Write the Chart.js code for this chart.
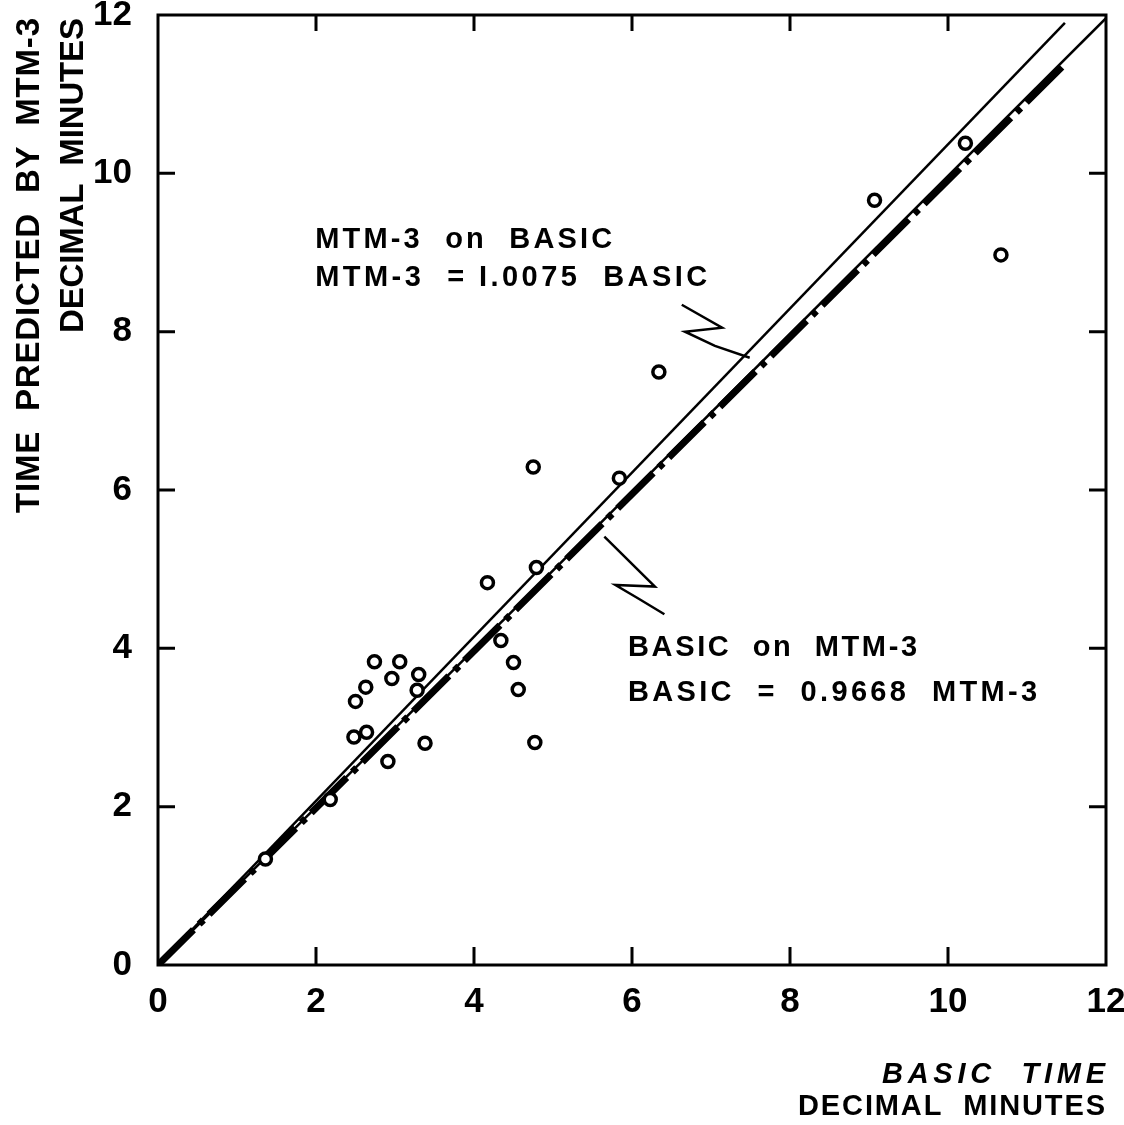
<!DOCTYPE html>
<html lang="en">
<head>
    <meta charset="UTF-8">
    <title>MTM-3 vs Basic time</title>
    <style>
        body {
            margin: 0;
            background-color: #fff;
        }
        #chart {
            display: block;
        }
    </style>
    <script src="https://cdn.jsdelivr.net/npm/chart.js"></script>
</head>
<body>
    <canvas id="chart" width="1124" height="1125"></canvas>

    <script>
        // observed elements: basic time (x) vs time predicted by MTM-3 (y)
        const basicTime = [1.36, 2.18, 2.48, 2.64, 2.91, 3.38, 4.77, 2.50, 2.63, 2.74, 3.06, 2.96, 3.30, 3.28,
                           4.34, 4.50, 4.56, 4.17, 4.79, 4.75, 5.84, 6.34, 9.07, 10.22, 10.67];
        const mtmTime   = [1.34, 2.09, 2.88, 2.94, 2.57, 2.80, 2.81, 3.33, 3.51, 3.83, 3.83, 3.62, 3.67, 3.47,
                           4.10, 3.82, 3.48, 4.83, 5.02, 6.29, 6.15, 7.49, 9.66, 10.38, 8.97];

        // fitted lines, end points
        const upperLineX = [0, 11.48];
        const upperLineY = [0, 11.90];
        const middleLineX = [0, 12.0];
        const middleLineY = [0, 11.96];
        const dashLineX = [0, 11.5];
        const dashLineY = [0, 11.40];

        // zig-zag leader lines from the labels to the lines
        const leaderUpX = [6.63, 7.14, 6.67, 7.05, 7.49];
        const leaderUpY = [8.34, 8.05, 8.00, 7.82, 7.67];
        const leaderLowX = [5.65, 6.29, 5.79, 6.08, 6.41];
        const leaderLowY = [5.41, 4.78, 4.80, 4.63, 4.43];

        const tickValues = [0, 2, 4, 6, 8, 10, 12];

        const toPoints = (xs, ys) => xs.map((x, i) => ({ x: x, y: ys[i] }));

        function fitText(ctx, text, x, y, width) {
            ctx.letterSpacing = '0px';
            const w = ctx.measureText(text).width;
            const sp = (width - w) / (text.length - 1);
            ctx.letterSpacing = sp + 'px';
            ctx.textAlign = 'left';
            ctx.textBaseline = 'alphabetic';
            ctx.fillText(text, x, y);
            ctx.letterSpacing = '0px';
        }

        const framePlugin = {
            id: 'frame',
            afterDraw(chart) {
                const ctx = chart.ctx;
                const a = chart.chartArea;
                const xs = chart.scales.x;
                const ys = chart.scales.y;
                ctx.save();
                ctx.strokeStyle = '#000';
                ctx.fillStyle = '#000';
                ctx.lineWidth = 3;
                ctx.strokeRect(a.left, a.top, a.right - a.left, a.bottom - a.top);

                // inward ticks on all four sides
                ctx.beginPath();
                tickValues.slice(1, -1).forEach(v => {
                    const px = xs.getPixelForValue(v);
                    ctx.moveTo(px, a.bottom); ctx.lineTo(px, a.bottom - 18);
                    ctx.moveTo(px, a.top); ctx.lineTo(px, a.top + 16);
                    const py = ys.getPixelForValue(v);
                    ctx.moveTo(a.left, py); ctx.lineTo(a.left + 17, py);
                    ctx.moveTo(a.right, py); ctx.lineTo(a.right - 17, py);
                });
                ctx.stroke();

                // annotations
                ctx.font = 'bold 29px "Liberation Sans"';
                let lx = xs.getPixelForValue(1.99);
                fitText(ctx, 'MTM-3  on  BASIC', lx, ys.getPixelForValue(9.06), 297);
                fitText(ctx, 'MTM-3  = I.0075  BASIC', lx, ys.getPixelForValue(8.58), 392);
                lx = xs.getPixelForValue(5.95);
                fitText(ctx, 'BASIC  on  MTM-3', lx, ys.getPixelForValue(3.90), 289);
                fitText(ctx, 'BASIC  =  0.9668  MTM-3', lx, ys.getPixelForValue(3.33), 409);

                // x axis title
                ctx.font = 'italic bold 29px "Liberation Sans"';
                fitText(ctx, 'BASIC  TIME', 882, 1083, 223);
                ctx.font = 'bold 29px "Liberation Sans"';
                fitText(ctx, 'DECIMAL  MINUTES', 798, 1115, 307);

                // y axis title, read bottom to top
                ctx.font = 'bold 33px "Liberation Sans"';
                ctx.save();
                ctx.translate(39, 513);
                ctx.rotate(-Math.PI / 2);
                fitText(ctx, 'TIME  PREDICTED  BY  MTM-3', 0, 0, 495);
                ctx.restore();
                ctx.save();
                ctx.translate(83, 333);
                ctx.rotate(-Math.PI / 2);
                fitText(ctx, 'DECIMAL  MINUTES', 0, 0, 315);
                ctx.restore();

                ctx.restore();
            }
        };

        const lineStyle = {
            showLine: true,
            pointRadius: 0,
            borderColor: '#000',
            backgroundColor: '#000',
            fill: false
        };

        const tickFont = { family: '"Liberation Sans"', size: 35, weight: 'bold' };

        new Chart(document.getElementById('chart').getContext('2d'), {
            type: 'scatter',
            data: {
                datasets: [
                    {
                        label: 'Observed',
                        data: toPoints(basicTime, mtmTime),
                        pointStyle: 'circle',
                        pointRadius: 6,
                        pointBorderWidth: 3.5,
                        borderColor: '#000',
                        backgroundColor: '#fff'
                    },
                    Object.assign({ label: 'MTM-3 on BASIC', data: toPoints(upperLineX, upperLineY), borderWidth: 2.5 }, lineStyle),
                    Object.assign({ label: 'Middle', data: toPoints(middleLineX, middleLineY), borderWidth: 2.5 }, lineStyle),
                    Object.assign({ label: 'BASIC on MTM-3', data: toPoints(dashLineX, dashLineY), borderWidth: 7,
                                    borderDash: [50, 8, 6, 8] }, lineStyle),
                    Object.assign({ label: 'Leader 1', data: toPoints(leaderUpX, leaderUpY), borderWidth: 2.5 }, lineStyle),
                    Object.assign({ label: 'Leader 2', data: toPoints(leaderLowX, leaderLowY), borderWidth: 2.5 }, lineStyle)
                ]
            },
            options: {
                responsive: false,
                animation: false,
                layout: { padding: { top: 15, right: 18, left: 0, bottom: 0 } },
                plugins: {
                    legend: { display: false },
                    tooltip: { enabled: false }
                },
                scales: {
                    x: {
                        type: 'linear',
                        min: 0,
                        max: 12,
                        afterBuildTicks(s) { s.ticks = tickValues.map(v => ({ value: v })); },
                        ticks: {
                            color: '#000',
                            padding: 8,
                            font: tickFont
                        },
                        grid: { display: false },
                        border: { display: false },
                        afterFit(s) {
                            s.height = 1125 - 965;
                            s.paddingLeft = 0;
                            s.paddingRight = 0;
                        }
                    },
                    y: {
                        type: 'linear',
                        min: 0,
                        max: 12,
                        afterBuildTicks(s) { s.ticks = tickValues.map(v => ({ value: v })); },
                        ticks: {
                            color: '#000',
                            padding: 18,
                            font: tickFont
                        },
                        grid: { display: false },
                        border: { display: false },
                        afterFit(s) {
                            s.width = 158;
                            s.paddingTop = 0;
                            s.paddingBottom = 0;
                        }
                    }
                }
            },
            plugins: [framePlugin]
        });
    </script>
</body>
</html>
